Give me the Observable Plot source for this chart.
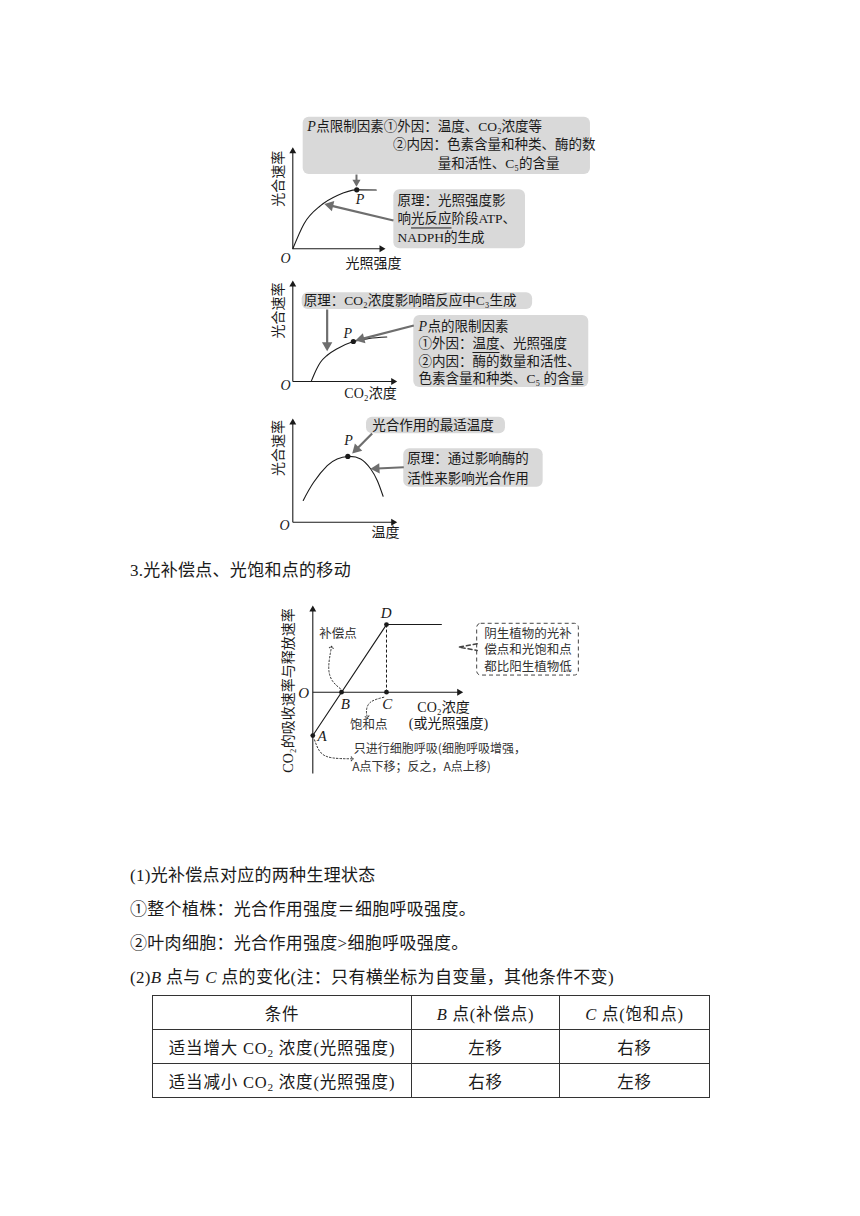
<!DOCTYPE html>
<html><head><meta charset="utf-8">
<script src="https://cdn.jsdelivr.net/npm/d3@7"></script>
<script src="https://cdn.jsdelivr.net/npm/@observablehq/plot@0.6"></script>
<style>
html,body{margin:0;padding:0;background:#fff;}
#page{position:relative;width:860px;height:1216px;overflow:hidden;background:#fff;font-family:"Liberation Serif","Noto Sans CJK SC",serif;color:#1a1a1a;}
.line{position:absolute;left:130px;font-size:17px;line-height:20px;white-space:nowrap;letter-spacing:0.3px;}
table{position:absolute;left:152px;top:995px;border-collapse:collapse;font-size:16.5px;letter-spacing:0.8px;}
td{border:1px solid #333;text-align:center;height:33px;padding:0;font-weight:normal;}
sub{font-size:0.68em;vertical-align:-0.25em;line-height:0;}
</style></head>
<body><div id="page"></div>
<script>
// ---------- data ----------
// Diagram 1: light intensity vs. photosynthesis rate
const lightIntensity = [0, 1.2, 3.0, 4.8, 6.9, 9.0];
const rateByLight    = [0, 2.45, 4.25, 5.25, 5.8, 5.78];
const lightPIndex = 4;
// Diagram 2: CO2 concentration vs. photosynthesis rate
const co2Level  = [1.76, 2.0, 2.65, 3.3, 4.25, 5.8, 7.3, 9.0];
const rateByCO2 = [0, 0.6, 1.9, 2.6, 3.25, 3.96, 4.25, 4.4];
const co2PIndex = 5;
// Diagram 3: temperature vs. photosynthesis rate
const temperature = [1.0, 2.0, 3.3, 4.25, 5.27, 6.5, 7.45, 8.1, 8.65];
const rateByTemp  = [2.1, 3.85, 5.45, 6.1, 6.34, 6.1, 5.15, 4.0, 2.5];
const tempPIndex = 4;
// Diagram 4: net CO2 exchange vs. CO2 concentration (or light)
const netX = [0, 4.9, 8.55];
const netY = [-5, 7.8, 7.8];
const keyPointNames = ["A", "B", "C", "D"];
const keyPointX = [0, 1.91, 4.9, 4.9];
const keyPointY = [-5, 0, 0, 7.8];
// Table
const tableHeader = ["条件", "<i>B</i> 点(补偿点)", "<i>C</i> 点(饱和点)"];
const conditions = ["适当增大 CO<sub>2</sub> 浓度(光照强度)", "适当减小 CO<sub>2</sub> 浓度(光照强度)"];
const bShift = ["左移", "右移"];
const cShift = ["右移", "左移"];

// ---------- helpers ----------
const FONT = '"Liberation Serif","Noto Sans CJK SC",serif';
const HAND = '"Noto Sans CJK SC",sans-serif';
const INK = "#1a1a1a";
const GREY = "#6e6e6e";
const page = document.getElementById("page");
const zip = (xs, ys) => xs.map((x, i) => ({x, y: ys[i]}));

function diagram(cfg, build) {
  const {left, top, width, height, ox, oy, kx, ky} = cfg;
  const svg = Plot.plot({
    width, height, margin: 0,
    x: {domain: [(left - ox) / kx, (left + width - ox) / kx], axis: null},
    y: {domain: [(oy - top - height) / ky, (oy - top) / ky], axis: null},
    style: {background: "transparent", overflow: "visible", fontFamily: FONT, color: INK},
    marks: build(cfg)
  });
  svg.style.position = "absolute";
  svg.style.left = left + "px";
  svg.style.top = top + "px";
  page.append(svg);
}
// arrows with filled triangular heads
function fillArrows(cfg, list, {stroke = GREY, width = 2.2, head = 9} = {}) {
  const rows = list.map(([x1, y1, x2, y2]) => {
    const sx = (x2 - x1) * cfg.kx, sy = -(y2 - y1) * cfg.ky, L = Math.hypot(sx, sy);
    const ux = sx / L, uy = sy / L;
    return {
      x1, y1,
      bx: x2 - ux * head * 0.75 / cfg.kx, by: y2 + uy * head * 0.75 / cfg.ky,
      cx: x2 - ux * head * 2 / 3 / cfg.kx, cy: y2 + uy * head * 2 / 3 / cfg.ky,
      a: Math.atan2(ux, -uy) * 180 / Math.PI
    };
  });
  const yy = head / 3;
  const r = Math.sqrt(yy * yy * 3 * Math.sqrt(3) / Math.PI);
  return [
    Plot.link(rows, {x1: "x1", y1: "y1", x2: "bx", y2: "by", stroke, strokeWidth: width}),
    Plot.dot(rows, {x: "cx", y: "cy", symbol: "triangle", r, rotate: "a", fill: stroke, stroke: "none"})
  ];
}
const axes = (cfg, list) => fillArrows(cfg, list, {stroke: INK, width: 1.1, head: 6});
const boxes = (list, o = {}) => Plot.rect(list, {x1: d => d[0], x2: d => d[1], y1: d => d[2], y2: d => d[3], rx: 6, fill: "#d9d9d9", ...o});
const labels = (list, o = {}) => Plot.text(list, {x: d => d[0], y: d => d[1], text: d => d[2], fontSize: 13.5, textAnchor: "start", fill: INK, ...o});
const segs = (list, o = {}) => Plot.link(list, {x1: d => d[0], y1: d => d[1], x2: d => d[2], y2: d => d[3], stroke: INK, strokeWidth: 1, ...o});

// ---------- Diagram 1 ----------
const c1 = zip(lightIntensity, rateByLight);
diagram({left: 260, top: 100, width: 340, height: 175, ox: 292.3, oy: 248.3, kx: 9.27, ky: 10.16}, cfg => [
  boxes([[1.12, 32.11, 7.31, 12.95], [10.9, 25.1, 0, 5.81]]),
  axes(cfg, [[0, 0, 10, 0], [0, 0, 0, 10]]),
  Plot.line(c1, {x: "x", y: "y", curve: "monotone-x", stroke: INK, strokeWidth: 1.1}),
  fillArrows(cfg, [[6.87, 7.31, 6.87, 6.1]], {width: 2, head: 7}),
  fillArrows(cfg, [[10.86, 2.79, 3.4, 4.4]]),
  Plot.dot([c1[lightPIndex]], {x: "x", y: "y", r: 2.6, fill: INK}),
  labels([[1.55, 12.04, "P"]], {fontStyle: "italic", fontSize: 14}),
  labels([[2.52, 12.04, "点限制因素①外因：温度、CO₂浓度等"],
          [10.8, 10.22, "②内因：色素含量和种类、酶的数"],
          [15.63, 8.40, "量和活性、C₅的含量"],
          [11.3, 4.75, "原理：光照强度影"],
          [11.3, 2.98, "响光反应阶段ATP、"],
          [11.3, 1.14, "NADPH的生成"]]),
  segs([[12.75, 2.05, 17.12, 2.05]]),
  labels([[7.25, 4.85, "P"], [-0.79, -0.95, "O"]], {fontStyle: "italic", fontSize: 14, textAnchor: "middle"}),
  labels([[8.7, -1.48, "光照强度"]], {fontSize: 14, textAnchor: "middle"}),
  labels([[-1.51, 6.9, "光合速率"]], {fontSize: 14, textAnchor: "middle", rotate: -90})
]);

// ---------- Diagram 2 ----------
const c2 = zip(co2Level, rateByCO2);
diagram({left: 260, top: 275, width: 340, height: 130, ox: 292.3, oy: 381, kx: 10.44, ky: 10.1}, cfg => [
  boxes([[0.9, 22.97, 7.13, 8.78], [11.59, 28.35, -0.59, 6.53]]),
  axes(cfg, [[0, 0, 10, 0], [0, 0, 0, 10]]),
  Plot.line(c2, {x: "x", y: "y", curve: "monotone-x", stroke: INK, strokeWidth: 1.1}),
  fillArrows(cfg, [[3.29, 7.13, 3.29, 3.0], [11.59, 5.54, 6.0, 4.06]]),
  Plot.dot([c2[co2PIndex]], {x: "x", y: "y", r: 2.6, fill: INK}),
  labels([[1.05, 7.97, "原理：CO₂浓度影响暗反应中C₃生成"],
          [12.9, 5.45, "点的限制因素"],
          [12.04, 3.71, "①外因：温度、光照强度"],
          [12.04, 1.98, "②内因：酶的数量和活性、"],
          [12.04, 0.25, "色素含量和种类、C₅ 的含量"]]),
  labels([[12.04, 5.45, "P"]], {fontStyle: "italic", fontSize: 14}),
  segs([[17.21, 2.87, 19.8, 2.87]]),
  labels([[5.27, 4.72, "P"], [-0.7, -0.4, "O"]], {fontStyle: "italic", fontSize: 14, textAnchor: "middle"}),
  labels([[7.44, -1.19, "CO₂浓度"]], {fontSize: 14, textAnchor: "middle"}),
  labels([[-1.34, 7.03, "光合速率"]], {fontSize: 14, textAnchor: "middle", rotate: -90})
]);

// ---------- Diagram 3 ----------
const c3 = zip(temperature, rateByTemp);
diagram({left: 260, top: 405, width: 340, height: 140, ox: 292.3, oy: 521.7, kx: 10.44, ky: 10.37}, cfg => [
  boxes([[7.06, 20.37, 8.52, 10.13], [10.63, 23.98, 3.38, 7.08]]),
  axes(cfg, [[0, 0, 10, 0], [0, 0, 0, 10]]),
  Plot.line(c3, {x: "x", y: "y", curve: "natural", stroke: INK, strokeWidth: 1.1}),
  fillArrows(cfg, [[7.6, 8.55, 5.69, 6.63], [10.63, 5.3, 7.44, 5.15]]),
  Plot.dot([c3[tempPIndex]], {x: "x", y: "y", r: 2.6, fill: INK}),
  labels([[7.6, 9.32, "光合作用的最适温度"],
          [10.96, 6.11, "原理：通过影响酶的"],
          [10.96, 4.24, "活性来影响光合作用"]]),
  labels([[5.33, 7.88, "P"], [-0.8, -0.32, "O"]], {fontStyle: "italic", fontSize: 14, textAnchor: "middle"}),
  labels([[8.88, -0.96, "温度"]], {fontSize: 14, textAnchor: "middle"}),
  labels([[-1.34, 7.16, "光合速率"]], {fontSize: 14, textAnchor: "middle", rotate: -90})
]);

// ---------- Diagram 4 ----------
const net = zip(netX, netY);
const keyPts = keyPointNames.map((n, i) => ({n, x: keyPointX[i], y: keyPointY[i]}));
const dotted = [
  [[1.84, 0.39], [1.29, 1.35], [1.06, 2.88], [1.24, 5.19]],
  [[4.72, -0.58], [3.84, -1.15], [3.57, -2.11], [3.62, -2.88]],
  [[0.11, -5.49], [0.51, -6.92], [1.29, -7.57], [2.62, -7.68]]
].flatMap((pts, k) => pts.map(([x, y]) => ({k, x, y})));
diagram({left: 270, top: 600, width: 330, height: 180, ox: 312.3, oy: 691.7, kx: 15.04, ky: 8.67}, cfg => [
  axes(cfg, [[0, 0, 10, 0], [0, -9.39, 0, 10]]),
  Plot.line(net, {x: "x", y: "y", stroke: INK, strokeWidth: 1.1}),
  segs([[keyPointX[3], keyPointY[3], keyPointX[2], keyPointY[2]]], {strokeDasharray: "3,2"}),
  Plot.dot(keyPts, {x: "x", y: "y", r: 2.4, fill: INK}),
  labels([[4.88, 9.08, "D"], [-0.6, -0.1, "O"], [2.17, -1.34, "B"], [4.95, -1.34, "C"], [0.62, -5.11, "A"]],
         {fontStyle: "italic", fontSize: 15, textAnchor: "middle"}),
  labels([[8.69, -1.73, "CO₂浓度"], [9.02, -3.64, "(或光照强度)"]], {fontSize: 14, textAnchor: "middle"}),
  labels([[-1.6, 0.2, "CO₂的吸收速率与释放速率"]], {fontSize: 14, textAnchor: "middle", rotate: -90}),
  Plot.line(dotted, {x: "x", y: "y", z: "k", curve: "natural", stroke: "#333", strokeWidth: 1, strokeDasharray: "1.5,2", markerEnd: "arrow"}),
  Plot.rect([[10.93, 17.69, 1.92, 7.89]], {x1: d => d[0], x2: d => d[1], y1: d => d[2], y2: d => d[3], rx: 4, fill: "none", stroke: "#444", strokeDasharray: "4,3"}),
  Plot.line([{x: 10.93, y: 5.58}, {x: 9.71, y: 5.19}, {x: 10.93, y: 4.81}], {x: "x", y: "y", stroke: "#444", strokeDasharray: "4,3"}),
  labels([[14.31, 6.74, "阴生植物的光补"], [14.31, 4.81, "偿点和光饱和点"], [14.31, 2.88, "都比阳生植物低"]],
         {fontSize: 12.5, textAnchor: "middle", fontFamily: HAND, fill: "#333"}),
  labels([[1.68, 6.73, "补偿点"], [3.72, -3.84, "饱和点"]], {fontSize: 12.5, textAnchor: "middle", fontFamily: HAND, fill: "#333"}),
  labels([[2.73, -6.53, "只进行细胞呼吸(细胞呼吸增强，"], [2.62, -8.65, "A点下移；反之，A点上移)"]],
         {fontSize: 12, fontFamily: HAND, fill: "#333"})
]);

// ---------- text & table ----------
const textLines = [
  [571, "3.光补偿点、光饱和点的移动"],
  [876, "(1)光补偿点对应的两种生理状态"],
  [910, "①整个植株：光合作用强度＝细胞呼吸强度。"],
  [944, "②叶肉细胞：光合作用强度&gt;细胞呼吸强度。"],
  [978, "(2)<i>B</i> 点与 <i>C</i> 点的变化(注：只有横坐标为自变量，其他条件不变)"]
];
for (const [cy, html] of textLines) {
  const div = document.createElement("div");
  div.className = "line";
  div.style.top = (cy - 10) + "px";
  div.innerHTML = html;
  page.append(div);
}
const colW = [258, 147, 149];
const rows = [tableHeader, ...conditions.map((c, i) => [c, bShift[i], cShift[i]])];
const table = document.createElement("table");
table.innerHTML = rows.map(r => "<tr>" + r.map((c, j) => `<td style="width:${colW[j]}px">${c}</td>`).join("") + "</tr>").join("");
page.append(table);
</script></body></html>
